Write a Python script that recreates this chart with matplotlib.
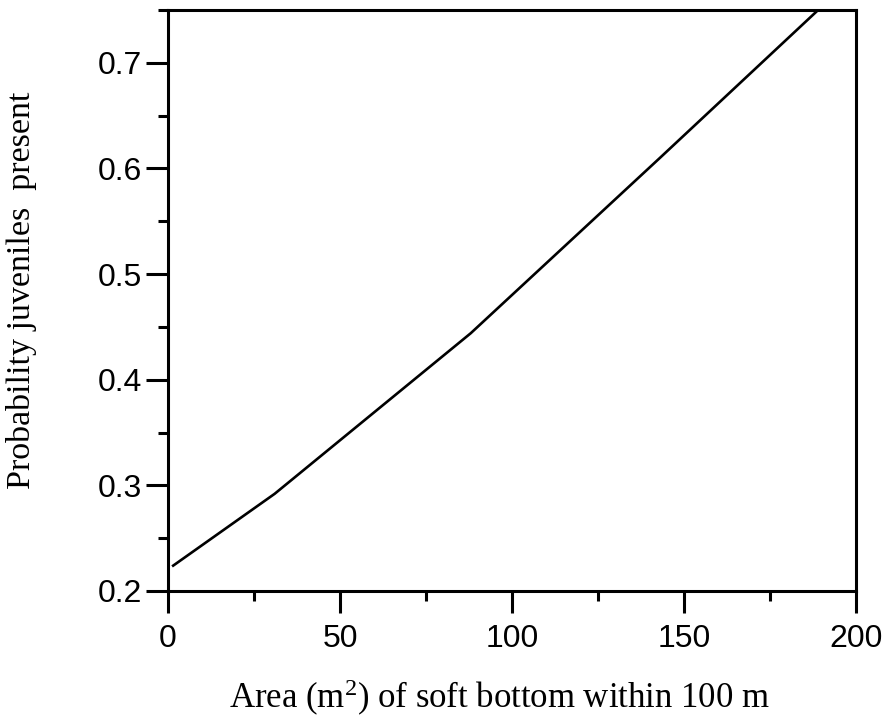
import matplotlib
matplotlib.use("Agg")
import matplotlib.pyplot as plt
from matplotlib.ticker import MultipleLocator

# Fitted probability curve (area in m^2 vs probability)
area = [1.5, 31, 88, 143, 189]
probability = [0.224, 0.292, 0.444, 0.610, 0.750]

x_ticks = [0, 50, 100, 150, 200]
y_ticks = [0.2, 0.3, 0.4, 0.5, 0.6, 0.7]

plt.rcParams["mathtext.fontset"] = "custom"
plt.rcParams["mathtext.rm"] = "Liberation Serif"
plt.rcParams["mathtext.it"] = "Liberation Serif:italic"

fig = plt.figure(figsize=(8.88, 7.21), dpi=100)
ax = fig.add_axes([168 / 888, 1 - 591 / 721, (856 - 168) / 888, (591 - 10) / 721])

ax.plot(area, probability, color="black", lw=1.9, solid_joinstyle="miter", clip_on=True)

ax.set_xlim(0, 200)
ax.set_ylim(0.2, 0.75)
ax.set_xticks(x_ticks)
ax.set_yticks(y_ticks)
ax.set_xticklabels([str(v) for v in x_ticks])
ax.set_yticklabels([f"{v:.1f}" for v in y_ticks])
ax.xaxis.set_minor_locator(MultipleLocator(25))
ax.yaxis.set_minor_locator(MultipleLocator(0.05))

for s in ax.spines.values():
    s.set_linewidth(2.2)

ax.tick_params(which="major", direction="out", length=15.5, width=2.2,
               labelsize=23, top=False, right=False)
ax.tick_params(which="minor", direction="out", length=7.5, width=2.2,
               top=False, right=False)
ax.tick_params(axis="x", which="major", pad=8)
ax.tick_params(axis="y", which="major", pad=3)
for lab in ax.get_xticklabels() + ax.get_yticklabels():
    lab.set_fontfamily("Liberation Sans")

ax.set_xlabel("Area (m$^2$) of soft bottom within 100 m",
              fontfamily="Liberation Serif", fontsize=25)
ax.set_ylabel("Probability juveniles  present",
              fontfamily="Liberation Serif", fontsize=24.5)
ax.xaxis.set_label_coords((499 - 168) / 688, (591 - 678) / 581)
ax.yaxis.set_label_coords((37 - 168) / 688, (591 - 290) / 581)

fig.savefig("out.png", dpi=100)
